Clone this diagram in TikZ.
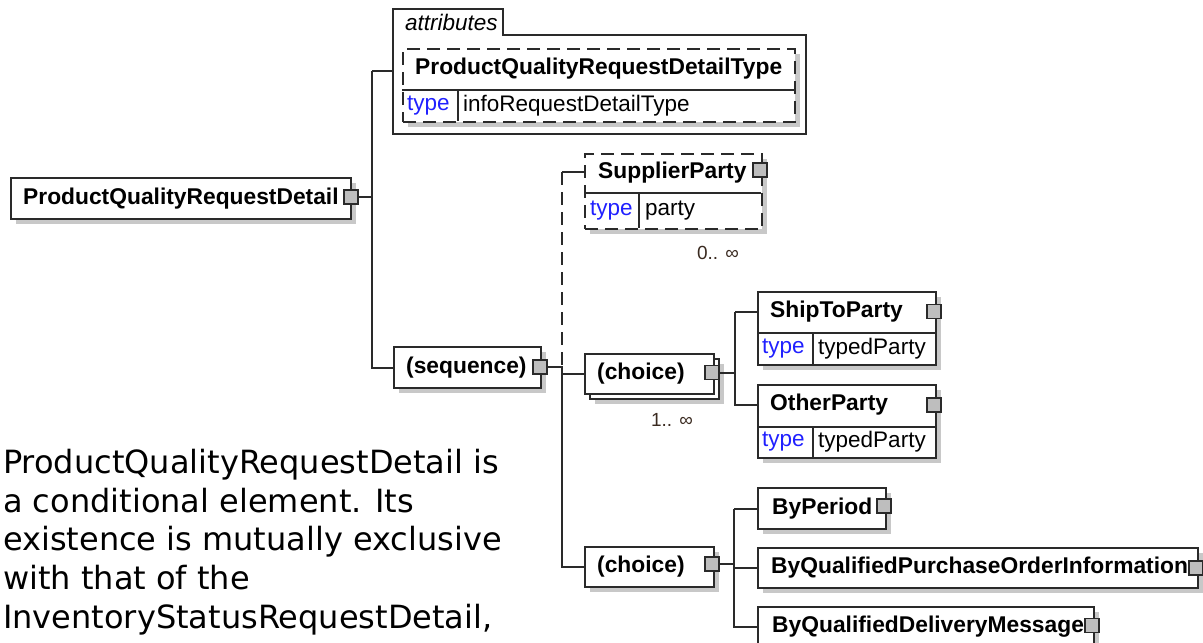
\documentclass[tikz,border=0pt]{standalone}
\usepackage{fontspec}
\setmainfont{Liberation Sans}
\newfontfamily\notefont{DejaVu Sans}
\usetikzlibrary{shadows,calc}
\definecolor{linec}{HTML}{2A2A2A}
\definecolor{shadowc}{HTML}{C8C8C8}
\definecolor{typec}{HTML}{2020FF}
\definecolor{squarec}{HTML}{BEBEBE}
\definecolor{occc}{HTML}{3A2A20}
\begin{document}
\begin{tikzpicture}[x=1pt,y=-1pt,
  conn/.style={draw=linec,line width=2pt},
  dashconn/.style={conn,dash pattern=on 13pt off 7pt},
  boxbase/.style={draw=linec,line width=2pt,fill=white,inner sep=0pt,anchor=north west,rectangle},
  elbox/.style 2 args={boxbase,minimum width=#1,minimum height=#2,
     general shadow={fill=shadowc,shadow xshift=5pt,shadow yshift=-5pt}},
  dashbox/.style={dash pattern=on 13pt off 7pt},
  sq/.style={draw=linec,line width=1.6pt,fill=squarec,minimum size=14pt,inner sep=0pt},
  nm/.style={anchor=west,inner sep=0pt,font=\fontsize{22.8}{26}\selectfont\bfseries},
  tp/.style={anchor=west,inner sep=0pt,font=\fontsize{22.5}{26}\selectfont,text=typec},
  val/.style={anchor=west,inner sep=0pt,font=\fontsize{22.5}{26}\selectfont},
  occ/.style={inner sep=0pt,font=\fontsize{19}{22}\selectfont,text=occc},
  note/.style={anchor=base west,inner sep=0pt,font=\notefont\fontsize{32}{38}\selectfont}
]
\clip (0,0) rectangle (1203,643);
\fill[white] (0,0) rectangle (1203,643);

% bus coordinates
\coordinate (bus1) at (372,0);
\coordinate (bus2) at (562,0);
\coordinate (bus3) at (735,0);
\coordinate (bus4) at (734,0);

% ---- main element
\node[elbox={340pt}{41pt}] (main) at (10,177) {};
\node[nm] (maint) at ($(main.west)+(13,0)$) {ProductQualityRequestDetail};
\node[sq] (mainsq) at ($(main.east)+(-1,-1.5)$) {};

% ---- attributes group
\draw[conn,fill=white] (393,134) -- (393,9) -- (503,9) -- (503,35) -- (806,35) -- (806,134) -- cycle;
\node[anchor=west,inner sep=0pt,font=\fontsize{22.5}{26}\selectfont\itshape] (attrlbl) at (405,22) {attributes};
\coordinate (attrin) at (393,71);
\node[elbox={392pt}{73pt},dashbox] (attr) at (402,48) {};
\draw[conn] (402,90) -- (794,90);
\draw[conn] (458,90) -- (458,121);
\node[nm] (attrt) at (415,69) {ProductQualityRequestDetailType};
\node[tp] (attrtp) at (407,106) {type};
\node[val] (attrval) at (463,106) {infoRequestDetailType};

% ---- sequence
\node[elbox={147pt}{41pt}] (seq) at (393,346) {};
\node[nm] (seqt) at ($(seq.west)+(13,0)$) {(sequence)};
\node[sq] (seqsq) at ($(seq.east)+(-2,-0.5)$) {};

% ---- SupplierParty
\node[elbox={177pt}{75pt},dashbox] (sup) at (584,153) {};
\draw[conn] (584,193) -- (761,193);
\draw[conn] (639,193) -- (639,228);
\coordinate (supin) at (584,172);
\node[nm] (supt) at (598,173) {SupplierParty};
\node[sq] (supsq) at (760,170) {};
\node[tp] (suptp) at (590,211) {type};
\node[val] (supval) at (645,211) {party};
\node[occ] (supocc) at (718,253) {0.. ∞};

% ---- choice 1
\node[elbox={129pt}{40pt}] (ch1b) at (589,358) {};
\node[boxbase,minimum width=129pt,minimum height=40pt] (ch1) at (584,353) {};
\node[nm] (ch1t) at ($(ch1.west)+(13,0)$) {(choice)};
\node[sq] (ch1sq) at (712,372.5) {};
\node[occ] (ch1occ) at (672,420) {1.. ∞};

% ---- ShipToParty
\node[elbox={178pt}{73pt}] (ship) at (757,291) {};
\draw[conn] (757,333) -- (935,333);
\draw[conn] (813,333) -- (813,364);
\coordinate (shipin) at (757,312);
\node[nm] (shipt) at (770,312) {ShipToParty};
\node[sq] (shipsq) at (934,311.5) {};
\node[tp] (shiptp) at (762,349) {type};
\node[val] (shipval) at (818,349) {typedParty};

% ---- OtherParty
\node[elbox={178pt}{73pt}] (oth) at (757,384) {};
\draw[conn] (757,427) -- (935,427);
\draw[conn] (813,427) -- (813,457);
\coordinate (othin) at (757,405);
\node[nm] (otht) at (770,405) {OtherParty};
\node[sq] (othsq) at (934,405) {};
\node[tp] (othtp) at (762,442) {type};
\node[val] (othval) at (818,442) {typedParty};

% ---- choice 2
\node[elbox={129pt}{40pt}] (ch2) at (584,546) {};
\node[nm] (ch2t) at ($(ch2.west)+(13,0)$) {(choice)};
\node[sq] (ch2sq) at (712,564) {};

\node[elbox={128pt}{41pt}] (byp) at (757,487) {};
\node[nm] (bypt) at ($(byp.west)+(15,0)$) {ByPeriod};
\node[sq] (bypsq) at (884,506) {};

\node[elbox={440pt}{40pt}] (bypo) at (757,547) {};
\node[nm] (bypot) at ($(bypo.west)+(14,0)$) {ByQualifiedPurchaseOrderInformation};
\node[sq] (byposq) at (1196,568) {};

\node[elbox={336pt}{40pt}] (bydm) at (757,606) {};
\node[nm] (bydmt) at ($(bydm.west)+(15,0)$) {ByQualifiedDeliveryMessage};
\node[sq] (bydmsq) at (1092,625.5) {};

% ---- connectors
\draw[conn] (mainsq.east) -- (mainsq.east -| bus1);
\draw[conn] (attrin -| bus1) -- (attrin);
\draw[conn] (attrin -| bus1) -- (seq.west -| bus1) -- (seq.west);

\draw[conn] (supin -| bus2) -- (supin);
\draw[dashconn] (supin -| bus2) -- (seqsq.east -| bus2);
\draw[conn] (seqsq.east) -- (seqsq.east -| bus2) -- (ch2.west -| bus2) -- (ch2.west);
\draw[conn] (ch1.west -| bus2) -- (ch1.west);

\draw[conn] (ch1sq.east) -- (ch1sq.east -| bus3);
\draw[conn] (shipin -| bus3) -- (shipin);
\draw[conn] (shipin -| bus3) -- (othin -| bus3) -- (othin);

\draw[conn] (ch2sq.east) -- (ch2sq.east -| bus4);
\draw[conn] (byp.west -| bus4) -- (byp.west);
\draw[conn] (bypo.west -| bus4) -- (bypo.west);
\draw[conn] (byp.west -| bus4) -- (bydm.west -| bus4) -- (bydm.west);

% ---- note text
\node[note] (note1) at (3,473) {ProductQualityRequestDetail is};
\node[note] (note2) at (3,512) {a conditional element. Its};
\node[note] (note3) at (3,550) {existence is mutually exclusive};
\node[note] (note4) at (3,589) {with that of the};
\node[note] (note5) at (3,628) {InventoryStatusRequestDetail,};
\end{tikzpicture}
\end{document}
